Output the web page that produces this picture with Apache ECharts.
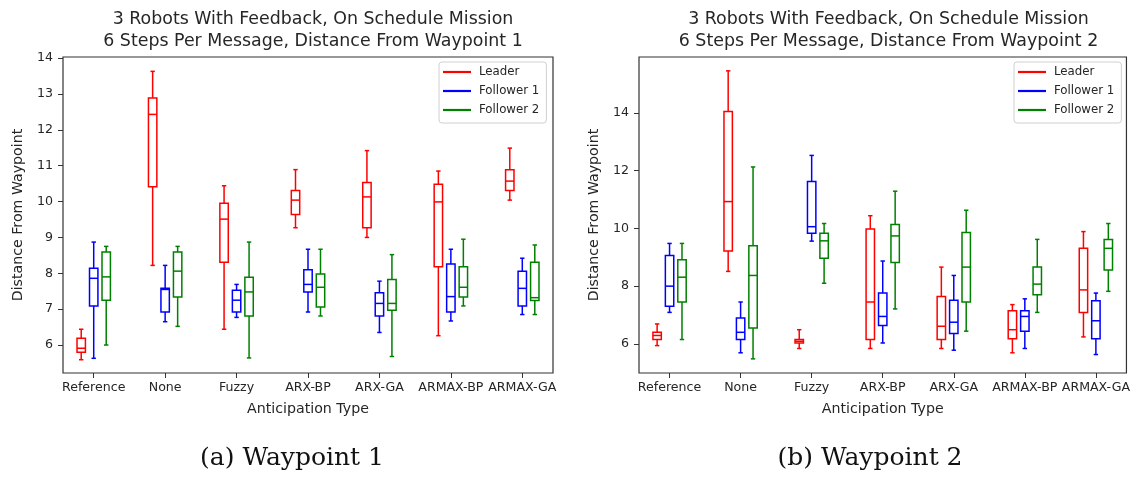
<!DOCTYPE html>
<html>
<head>
<meta charset="utf-8">
<script src="https://cdn.jsdelivr.net/npm/echarts@6/dist/echarts.min.js"></script>
<style>
  html, body { margin: 0; padding: 0; background: #ffffff; }
  #chart { width: 1133px; height: 477px; }
</style>
</head>
<body>
<div id="chart"></div>
<script>
// Anticipation types along the x axis
const categories = ['Reference', 'None', 'Fuzzy', 'ARX-BP', 'ARX-GA', 'ARMAX-BP', 'ARMAX-GA'];
const robotNames = ['Leader', 'Follower 1', 'Follower 2'];

// Box statistics per category: [min, Q1, median, Q3, max]
// Waypoint 1
const wp1Leader = [
  [5.59, 5.80, 5.91, 6.19, 6.44],
  [8.22, 10.41, 12.43, 12.89, 13.63],
  [6.44, 8.31, 9.51, 9.95, 10.44],
  [9.27, 9.64, 10.04, 10.31, 10.89],
  [9.00, 9.27, 10.13, 10.53, 11.42],
  [6.26, 8.18, 9.99, 10.48, 10.85],
  [10.04, 10.31, 10.57, 10.89, 11.49]
];
const wp1Follower1 = [
  [5.63, 7.09, 7.86, 8.14, 8.87],
  [6.65, 6.92, 7.55, 7.58, 8.22],
  [6.77, 6.92, 7.25, 7.53, 7.69],
  [6.92, 7.48, 7.69, 8.10, 8.67],
  [6.35, 6.81, 7.16, 7.46, 7.78],
  [6.67, 6.92, 7.35, 8.26, 8.67],
  [6.85, 7.09, 7.58, 8.06, 8.42]
];
const wp1Follower2 = [
  [6.00, 7.25, 7.90, 8.59, 8.75],
  [6.52, 7.34, 8.06, 8.59, 8.75],
  [5.64, 6.81, 7.48, 7.89, 8.87],
  [6.81, 7.06, 7.61, 7.98, 8.67],
  [5.68, 6.97, 7.16, 7.83, 8.52],
  [7.09, 7.34, 7.61, 8.18, 8.95],
  [6.85, 7.24, 7.32, 8.31, 8.79]
];
// Waypoint 2
const wp2Leader = [
  [5.94, 6.15, 6.29, 6.40, 6.69],
  [8.51, 9.22, 10.93, 14.05, 15.46],
  [5.84, 6.03, 6.09, 6.15, 6.49],
  [5.84, 6.15, 7.45, 9.98, 10.44],
  [5.84, 6.15, 6.61, 7.64, 8.66],
  [5.69, 6.18, 6.49, 7.15, 7.36],
  [6.24, 7.09, 7.87, 9.31, 9.89]
];
const wp2Follower1 = [
  [7.09, 7.30, 8.00, 9.06, 9.48],
  [5.69, 6.15, 6.40, 6.90, 7.45],
  [9.56, 9.83, 10.06, 11.63, 12.53],
  [6.03, 6.64, 6.95, 7.76, 8.87],
  [5.78, 6.36, 6.75, 7.51, 8.37],
  [5.84, 6.44, 6.95, 7.15, 7.56],
  [5.63, 6.18, 6.80, 7.49, 7.76]
];
const wp2Follower2 = [
  [6.15, 7.45, 8.31, 8.91, 9.48],
  [5.48, 6.55, 8.37, 9.40, 12.13],
  [8.10, 8.97, 9.57, 9.83, 10.17],
  [7.21, 8.82, 9.74, 10.14, 11.29],
  [6.44, 7.45, 8.66, 9.86, 10.63],
  [7.09, 7.70, 8.07, 8.66, 9.62],
  [7.82, 8.56, 9.31, 9.62, 10.17]
];

const wp1YTicks = [6, 7, 8, 9, 10, 11, 12, 13, 14];
const wp2YTicks = [6, 8, 10, 12, 14];

const titleLines = ['3 Robots With Feedback, On Schedule Mission', '6 Steps Per Message, Distance From Waypoint'];
const captions = ['(a) Waypoint 1', '(b) Waypoint 2'];

// ---- styling / layout ----
const colors = ['#ff0000', '#0000ff', '#008000'];
const groupShift = [-0.175, 0, 0.175];      // side-by-side placement within a category
const xRange = [-0.43, 6.43];
const boxHalf = 4.2;                         // px
const capHalf = 2.2;                         // px
const ink = '#262626';
const sans = 'DejaVu Sans';

const panels = [
  { left: 63, width: 490, yMin: 5.22, yMax: 14.03, yTicks: wp1YTicks,
    groups: [wp1Leader, wp1Follower1, wp1Follower2], wp: 1, captionX: 287 },
  { left: 639, width: 489, yMin: 4.99, yMax: 15.94, yTicks: wp2YTicks,
    groups: [wp2Leader, wp2Follower1, wp2Follower2], wp: 2, captionX: 865 }
];
const gridTop = 57, gridHeight = 316;
const catIdx = categories.map((c, i) => i);

// Box-and-whisker glyph: box Q1..Q3 with median bar, whiskers to min/max with short caps
function boxRenderer(color) {
  return function (params, api) {
    const x = api.value(0);
    const pMin = api.coord([x, api.value(1)]);
    const pQ1 = api.coord([x, api.value(2)]);
    const pMed = api.coord([x, api.value(3)]);
    const pQ3 = api.coord([x, api.value(4)]);
    const pMax = api.coord([x, api.value(5)]);
    const cx = pMin[0];
    const st = { stroke: color, lineWidth: 1.5, fill: null };
    const line = (x1, y1, x2, y2) => ({ type: 'line', shape: { x1, y1, x2, y2 }, style: st });
    return {
      type: 'group',
      children: [
        line(cx, pQ3[1], cx, pMax[1]),
        line(cx, pQ1[1], cx, pMin[1]),
        line(cx - capHalf, pMax[1], cx + capHalf, pMax[1]),
        line(cx - capHalf, pMin[1], cx + capHalf, pMin[1]),
        { type: 'rect', shape: { x: cx - boxHalf, y: pQ3[1], width: boxHalf * 2, height: pQ1[1] - pQ3[1] },
          style: { stroke: color, lineWidth: 1.5, fill: 'none' } },
        line(cx - boxHalf, pMed[1], cx + boxHalf, pMed[1])
      ]
    };
  };
}

const grid = [], xAxis = [], yAxis = [], series = [], title = [], legend = [];

panels.forEach((p, g) => {
  const cx = p.left + p.width / 2;
  grid.push({ left: p.left, top: gridTop, width: p.width, height: gridHeight,
    show: true, borderColor: '#333', borderWidth: 1.2, backgroundColor: 'transparent' });

  xAxis.push({
    type: 'value', gridIndex: g, min: xRange[0], max: xRange[1], position: 'bottom',
    axisLine: { show: false, onZero: false },
    splitLine: { show: false },
    axisTick: { show: true, customValues: catIdx, length: 5, lineStyle: { color: '#333', width: 1 } },
    axisLabel: { customValues: catIdx, formatter: v => categories[Math.round(v)],
      fontFamily: sans, fontSize: 12.6, color: ink, margin: 8 },
    name: 'Anticipation Type', nameLocation: 'middle', nameGap: 29,
    nameTextStyle: { fontFamily: sans, fontSize: 14.2, color: ink }
  });

  yAxis.push({
    type: 'value', gridIndex: g, min: p.yMin, max: p.yMax, position: 'left',
    axisLine: { show: false, onZero: false },
    splitLine: { show: false },
    axisTick: { show: true, customValues: p.yTicks, length: 5, lineStyle: { color: '#333', width: 1 } },
    axisLabel: { customValues: p.yTicks, fontFamily: sans, fontSize: 12.6, color: ink, margin: 10 },
    name: 'Distance From Waypoint', nameLocation: 'middle', nameGap: 38, nameRotate: 90,
    nameTextStyle: { fontFamily: sans, fontSize: 14.2, color: ink }
  });

  p.groups.forEach((vals, k) => {
    series.push({
      type: 'custom', name: robotNames[k],
      xAxisIndex: g, yAxisIndex: g,
      itemStyle: { color: colors[k] },
      encode: { x: 0, y: [1, 2, 3, 4, 5] },
      renderItem: boxRenderer(colors[k]),
      silent: true,
      data: vals.map((v, i) => [i + groupShift[k]].concat(v))
    });
  });

  title.push({
    text: titleLines[0] + '\n' + titleLines[1] + ' ' + p.wp,
    left: cx, top: 4, textAlign: 'center',
    textStyle: { fontFamily: sans, fontSize: 17.4, fontWeight: 'normal', color: ink, lineHeight: 21.5 }
  });
  title.push({
    text: captions[g], left: p.captionX, top: 441, textAlign: 'center',
    textStyle: { fontFamily: 'DejaVu Serif', fontSize: 25, fontWeight: 'normal', color: '#111' }
  });

  legend.push({
    orient: 'vertical', left: p.left + p.width - 114, top: gridTop + 5,
    padding: [3, 7, 6, 4], itemGap: 5, itemWidth: 28, itemHeight: 2.2, icon: 'rect',
    backgroundColor: '#ffffff', borderColor: '#d0d0d0', borderWidth: 1, borderRadius: 3,
    selectedMode: false,
    textStyle: { fontFamily: sans, fontSize: 11.8, color: ink, lineHeight: 14, padding: [0, 0, 0, 3] },
    data: robotNames.map((n, k) => ({ name: n, itemStyle: { color: colors[k], borderWidth: 0 } }))
  });
});

const chart = echarts.init(document.getElementById('chart'), null, { renderer: 'canvas' });
chart.setOption({
  animation: false,
  backgroundColor: '#ffffff',
  title, legend, grid, xAxis, yAxis, series
});
</script>
</body>
</html>
